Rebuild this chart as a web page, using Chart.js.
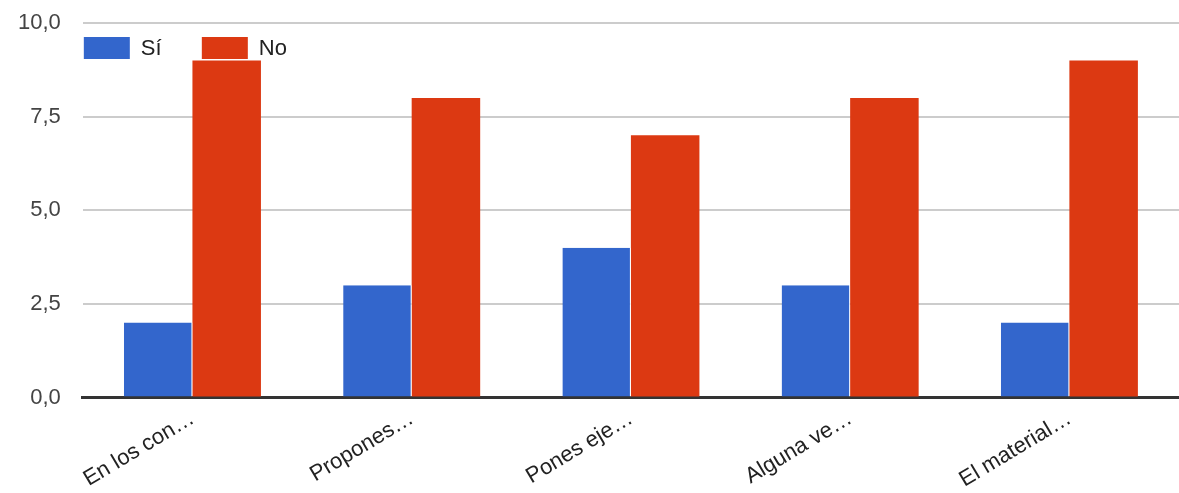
<!DOCTYPE html>
<html lang="es">
<head>
  <meta charset="UTF-8">
  <title>Sí / No</title>
  <script src="https://cdn.jsdelivr.net/npm/chart.js"></script>
  <style>
    html, body { margin: 0; padding: 0; background: #fff; }
    #wrap { width: 1179px; height: 493px; }
  </style>
</head>
<body>
  <div id="wrap"><canvas id="chart"></canvas></div>
  <script>
    const categories = ['En los con…', 'Propones…', 'Pones eje…', 'Alguna ve…', 'El material…'];
    const siValues = [2, 3, 4, 3, 2];
    const noValues = [9, 8, 7, 8, 9];
    const yTicks = [0, 2.5, 5, 7.5, 10];

    const font = { family: '"Liberation Sans", Arial, sans-serif', size: 22 };

    // legend drawn inside the plot, top-left, in one row
    const insideLegend = {
      id: 'insideLegend',
      afterDraw(chart) {
        const ctx = chart.ctx;
        const area = chart.chartArea;
        let x = area.left + 1;
        const y = area.top + 14;
        ctx.save();
        ctx.font = font.size + 'px ' + font.family;
        ctx.textBaseline = 'middle';
        chart.data.datasets.forEach(ds => {
          ctx.fillStyle = ds.backgroundColor;
          ctx.fillRect(x, y, 46, 22);
          ctx.fillStyle = '#222';
          ctx.fillText(ds.label, x + 57, y + 12);
          x += 118;
        });
        ctx.restore();
      }
    };

    new Chart(document.getElementById('chart'), {
      type: 'bar',
      data: {
        labels: categories,
        datasets: [
          { label: 'Sí', data: siValues, backgroundColor: '#3366cc', borderColor: '#ffffff', borderWidth: { right: 1 }, borderSkipped: false },
          { label: 'No', data: noValues, backgroundColor: '#dc3912', borderWidth: 0 }
        ]
      },
      plugins: [insideLegend],
      options: {
        responsive: true,
        maintainAspectRatio: false,
        animation: false,
        layout: { padding: { top: 0, right: 0, left: -4, bottom: 0 } },
        datasets: { bar: { categoryPercentage: 0.625, barPercentage: 1.0 } },
        plugins: {
          tooltip: { enabled: false },
          legend: { display: false }
        },
        scales: {
          x: {
            grid: { display: false },
            border: { display: true, color: '#333', width: 3 },
            ticks: {
              color: '#222',
              font: font,
              padding: 0,
              minRotation: 31,
              maxRotation: 31,
              autoSkip: false
            }
          },
          y: {
            min: 0,
            max: 10,
            afterBuildTicks: axis => { axis.ticks = yTicks.map(v => ({ value: v })); },
            border: { display: false },
            grid: { color: '#cccccc', lineWidth: 2, drawTicks: false },
            ticks: {
              color: '#444',
              font: font,
              padding: 22,
              callback: v => v.toFixed(1).replace('.', ',')
            },
            afterFit: s => { s.paddingTop = 23; }
          }
        }
      }
    });
  </script>
</body>
</html>
